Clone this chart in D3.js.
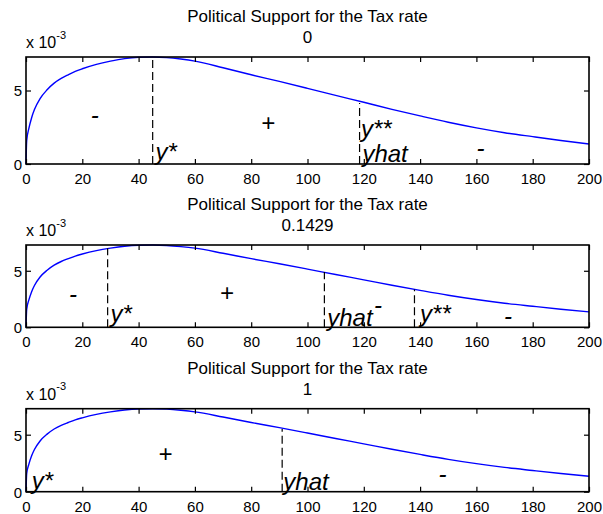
<!DOCTYPE html>
<html>
<head>
<meta charset="utf-8">
<script src="https://cdn.jsdelivr.net/npm/d3@7"></script>
<style>
  body { margin: 0; background: #fff; }
  svg { display: block; }
  text { font-family: "Liberation Sans", Arial, Helvetica, sans-serif; fill: #000; }
</style>
</head>
<body>
<svg id="chart" width="603" height="514"></svg>
<script>
// ---- data (y values in units of 1e-3) ----
const curveX = [0, 0.25, 1, 2, 3, 5, 7.5, 10, 12.5, 15, 17.5, 20, 25, 30, 35, 40, 45, 50, 55, 60, 70, 80, 90, 100, 110, 120, 130, 140, 150, 160, 170, 180, 190, 200];
const curveY = [0, 1.6, 2.4, 3.15, 3.7, 4.45, 5.05, 5.5, 5.82, 6.07, 6.3, 6.48, 6.78, 7.0, 7.17, 7.26, 7.28, 7.24, 7.14, 7.0, 6.55, 6.07, 5.62, 5.15, 4.67, 4.2, 3.72, 3.27, 2.84, 2.46, 2.13, 1.86, 1.6, 1.36];

const xTicks = [0, 20, 40, 60, 80, 100, 120, 140, 160, 180, 200];
const yTicks = [0, 5];
const xDomain = [0, 200];
const yDomain = [0, 7.28];

const titleMain = "Political Support for the Tax rate";
const panelSubtitles = ["0", "0.1429", "1"];

// dashed vertical markers per panel: x positions and top values
const dashX = [[45, 118.5], [29, 106, 138], [91]];
const dashTop = [[7.28, 4.15], [7.0, 4.9, 3.35], [5.5]];

// text labels per panel
const labelText = [
  ["-", "+", "y*", "y**", "yhat", "-"],
  ["-", "+", "y*", "yhat", "-", "y**", "-"],
  ["y*", "+", "yhat", "-"]
];
const labelX = [
  [23, 83.5, 46, 119, 119.5, 160],
  [15.3, 68.8, 30, 107, 123.6, 140, 169.8],
  [2, 47, 91.4, 146.5]
];
const labelY = [
  [2.78, 2.24, 0.27, 1.86, 0.12, 0.57],
  [2.2, 2.31, 0.49, 0.14, 1.24, 0.49, 0.3],
  [0.21, 2.61, 0.15, 0.82]
];

// ---- layout ----
const left = 26, right = 589;
const panels = [
  { top: 57, bottom: 164 },
  { top: 245, bottom: 327.3 },
  { top: 408.7, bottom: 491.7 }
];

const svg = d3.select("#chart");
svg.append("rect").attr("width", 603).attr("height", 514).attr("fill", "#fff");

const x = d3.scaleLinear().domain(xDomain).range([left, right]);

panels.forEach((p, i) => {
  const y = d3.scaleLinear().domain(yDomain).range([p.bottom, p.top]);
  const g = svg.append("g");

  // curve
  const pts = curveX.map((v, k) => [v, curveY[k]]);
  g.append("path")
    .datum(pts)
    .attr("fill", "none")
    .attr("stroke", "#0000ff")
    .attr("stroke-width", 1.4)
    .attr("d", d3.line().x(d => x(d[0])).y(d => y(d[1])).curve(d3.curveMonotoneX));

  // dashed markers
  dashX[i].forEach((dx, k) => {
    g.append("line")
      .attr("x1", x(dx)).attr("x2", x(dx))
      .attr("y1", y(0)).attr("y2", y(dashTop[i][k]))
      .attr("stroke", "#000").attr("stroke-width", 1.2)
      .attr("stroke-dasharray", "8,4");
  });

  // axes with inward ticks
  const bottomAx = g.append("g").attr("transform", `translate(0,${p.bottom})`)
    .call(d3.axisBottom(x).tickValues(xTicks).tickSize(-5).tickFormat(d3.format("d")));
  bottomAx.selectAll("text").attr("y", 20).attr("dy", 0).style("font-size", "15px");
  const topAx = g.append("g").attr("transform", `translate(0,${p.top})`)
    .call(d3.axisTop(x).tickValues(xTicks).tickSize(-5).tickFormat(""));
  const leftAx = g.append("g").attr("transform", `translate(${left},0)`)
    .call(d3.axisLeft(y).tickValues(yTicks).tickSize(-5).tickFormat(d3.format("d")));
  leftAx.selectAll("text").attr("x", -4).attr("dy", "0.36em").style("font-size", "15px");
  const rightAx = g.append("g").attr("transform", `translate(${right},0)`)
    .call(d3.axisRight(y).tickValues(yTicks).tickSize(-5).tickFormat(""));
  [bottomAx, topAx, leftAx, rightAx].forEach(a => {
    a.select(".domain").remove();
    a.selectAll(".tick line").attr("stroke", "#000").attr("stroke-width", 1.2);
    a.attr("font-family", null).attr("font-size", null);
  });

  // box
  g.append("rect")
    .attr("x", left).attr("y", p.top)
    .attr("width", right - left).attr("height", p.bottom - p.top)
    .attr("fill", "none").attr("stroke", "#000").attr("stroke-width", 1.6);

  // titles
  const cx = (left + right) / 2;
  g.append("text").attr("x", cx).attr("y", p.top - 35)
    .attr("text-anchor", "middle").style("font-size", "17px").text(titleMain);
  g.append("text").attr("x", cx).attr("y", p.top - 14)
    .attr("text-anchor", "middle").style("font-size", "17px").text(panelSubtitles[i]);

  // exponent label
  const ex = g.append("text").attr("x", left).attr("y", p.top - 9).style("font-size", "16px");
  ex.append("tspan").text("x 10");
  ex.append("tspan").attr("dy", -9.4).style("font-size", "11px").text("-3");

  // annotation labels
  labelText[i].forEach((t, k) => {
    g.append("text")
      .attr("x", x(labelX[i][k])).attr("y", y(labelY[i][k]))
      .style("font-size", "24px").style("font-style", "italic")
      .text(t);
  });
});
</script>
</body>
</html>
